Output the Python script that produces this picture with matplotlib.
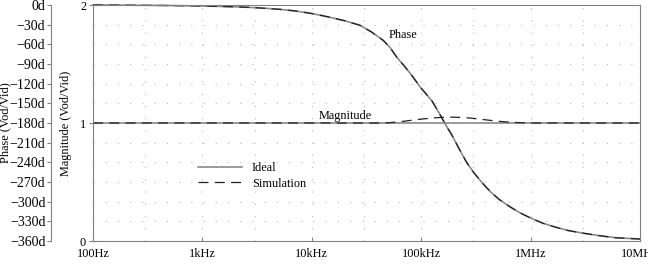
import matplotlib
matplotlib.use("Agg")
import matplotlib.pyplot as plt

plt.rcParams['font.family'] = ['Liberation Serif', 'DejaVu Serif']

# ---- data ----
freq_phase = [100, 200, 500, 1e3, 2e3, 3e3, 5e3, 7e3, 1e4, 1.4e4, 2e4, 2.76e4,
              3.5e4, 4.5e4, 5.2e4, 6e4, 7e4, 8e4, 1e5, 1.25e5, 1.45e5, 1.65e5,
              1.9e5, 2.2e5, 2.6e5, 3e5, 3.6e5, 4.3e5, 5.2e5, 6.5e5, 8e5, 1e6,
              1.3e6, 1.7e6, 2.2e6, 3e6, 4.3e6, 6e6, 1e7]
phase_deg = [0, -0.3, -0.8, -1.5, -2.8, -4, -6.5, -9, -13, -18, -24, -31,
             -41, -54, -65, -80, -93, -105, -127, -146, -164, -181,
             -198, -218, -240, -255, -271, -285, -297, -308, -317, -325,
             -333, -339, -344, -348, -352, -355, -357]

freq_mag = [100, 1e3, 1e4, 4e4, 5e4, 6e4, 7e4, 8e4, 1e5, 1.25e5, 1.5e5, 1.8e5,
            2.2e5, 2.8e5, 3.5e5, 4.3e5, 5.5e5, 7e5, 9e5, 1.1e6, 1e7]
mag_ideal = [1.0] * len(freq_mag)
mag_sim = [1.0, 1.0, 1.0, 1.0, 1.002, 1.008, 1.015, 1.022, 1.033, 1.042, 1.047,
           1.05, 1.048, 1.042, 1.032, 1.022, 1.012, 1.005, 1.001, 1.0, 1.0]

xtick_vals = [100, 1e3, 1e4, 1e5, 1e6, 1e7]
xtick_labels = ['100Hz', '1kHz', '10kHz', '100kHz', '1MHz', '10MHz']
xgrid_vals = [300, 1e3, 3e3, 1e4, 3e4, 1e5, 3e5, 1e6, 3e6]
phase_ticks = list(range(0, -361, -30))
phase_labels = ['0d'] + ['\u2212%dd' % (-p) for p in phase_ticks[1:]]
mag_ticks = [0, 1, 2]

# ---- figure ----
W, H = 648, 270
fig = plt.figure(figsize=(W / 100, H / 100), dpi=100)
L, R, T, B = 93, 640, 5, 241
pos = [L / W, 1 - B / H, (R - L) / W, (B - T) / H]

spine_col = '#808080'
fs = 8.8

# phase axes (behind)
axp = fig.add_axes(pos)
axp.set_zorder(0)
axp.set_xscale('log')
axp.set_xlim(100, 1e7)
axp.set_ylim(-360, 0)
axp.set_yticks(phase_ticks)
axp.set_yticklabels(phase_labels, fontsize=fs)
axp.set_xticks([])
axp.minorticks_off()
for s in ['top', 'right', 'bottom']:
    axp.spines[s].set_visible(False)
axp.spines['left'].set_position(('outward', 42 * 72 / 100))
axp.spines['left'].set_color(spine_col)
axp.tick_params(axis='y', direction='out', length=3, color=spine_col, pad=1)
axp.set_ylabel('Phase (Vod/Vid)', fontsize=fs)
axp.yaxis.set_label_coords((11.5 - L) / (R - L), 0.5)
for p in phase_ticks[1:-1]:
    axp.axhline(p, color='#b8b8b8', lw=0.8, ls=(0, (1, 10)))
for xv in xgrid_vals:
    axp.axvline(xv, color='#b8b8b8', lw=0.8, ls=(0, (1, 10)))

# magnitude axes (front)
ax = fig.add_axes(pos)
ax.set_zorder(1)
ax.patch.set_visible(False)
ax.set_xscale('log')
ax.set_xlim(100, 1e7)
ax.set_ylim(0, 2)
ax.set_xticks(xtick_vals)
ax.set_xticklabels(xtick_labels, fontsize=fs)
ax.minorticks_off()
ax.set_yticks(mag_ticks)
ax.set_yticklabels([str(v) for v in mag_ticks], fontsize=fs)
for s in ax.spines.values():
    s.set_color(spine_col)
ax.tick_params(axis='x', direction='in', length=3, color=spine_col, pad=5)
ax.tick_params(axis='y', direction='inout', length=6, color=spine_col, pad=2)
ax.set_ylabel('Magnitude (Vod/Vid)', fontsize=fs)
ax.yaxis.set_label_coords((72 - L) / (R - L), 0.5)

# phase curves
ax.plot(freq_phase, phase_deg, color='#8a8a8a', lw=1.2, transform=axp.transData,
        clip_on=False)
ax.plot(freq_phase, phase_deg, color='#202020', lw=0.9, ls=(0, (8, 5)),
        transform=axp.transData, clip_on=False)

# magnitude curves
ax.plot(freq_mag, mag_ideal, color='#8a8a8a', lw=1.2)
ax.plot(freq_mag, mag_sim, color='#202020', lw=0.9, ls=(0, (8, 5)))

ax.text((403 - L) / (R - L), (B - 35) / (B - T), 'Phase', transform=ax.transAxes,
        ha='center', va='center', fontsize=fs)
ax.text((345 - L) / (R - L), (B - 116) / (B - T), 'Magnitude', transform=ax.transAxes,
        ha='center', va='center', fontsize=fs)

leg_h1, = ax.plot([], [], color='#8a8a8a', lw=1.2)
leg_h2, = ax.plot([], [], color='#202020', lw=0.9, ls=(0, (8, 5)))
ax.legend([leg_h1, leg_h2], ['Ideal', 'Simulation'], loc='upper left',
          bbox_to_anchor=((198 - L) / (R - L), (B - 162) / (B - T)),
          frameon=False, fontsize=fs, handlelength=3.6, handletextpad=0.8,
          labelspacing=0.3, borderpad=0, borderaxespad=0)

fig.savefig('out.png', dpi=100)
